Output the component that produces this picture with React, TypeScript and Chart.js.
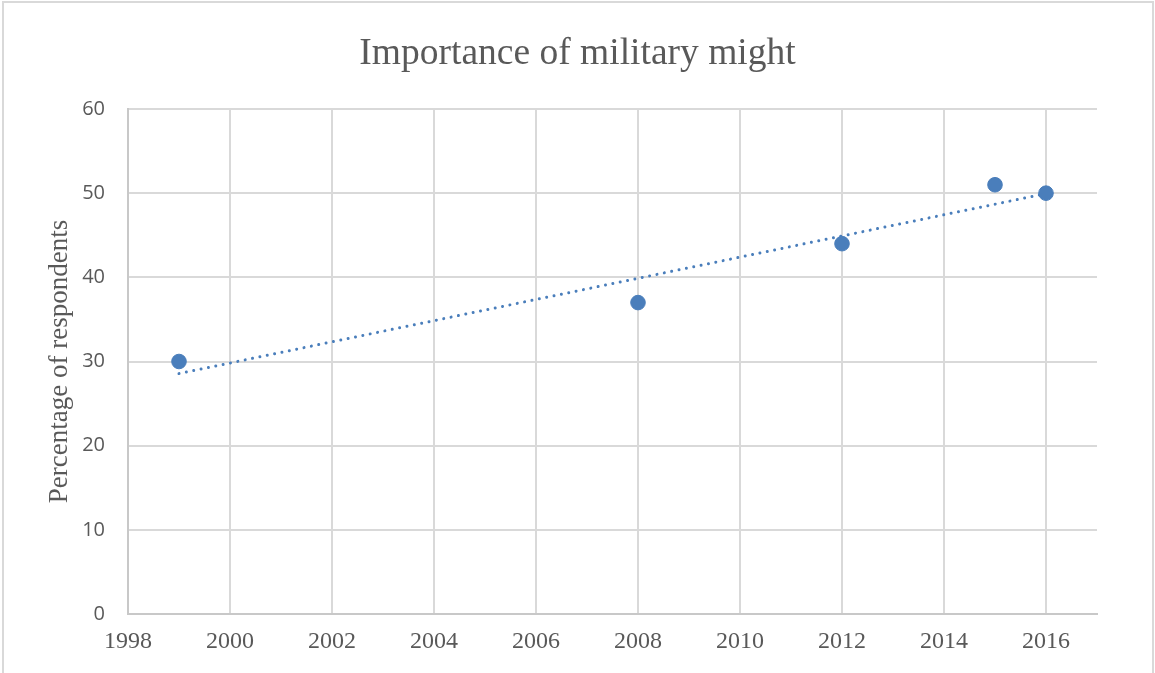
import React, { useEffect, useRef } from "react";
import { Chart, registerables } from "chart.js";

Chart.register(...registerables);

// Survey years and share of respondents who rated military might as important
const years = [1999, 2008, 2012, 2015, 2016];
const percentages = [30, 37, 44, 51, 50];

const xTickValues = [1998, 2000, 2002, 2004, 2006, 2008, 2010, 2012, 2014, 2016];
const xMin = 1998;
const xMax = 2017;
const yMin = 0;
const yMax = 60;
const yTickStep = 10;

const chartTitle = "Importance of military might";
const yAxisTitle = "Percentage of respondents";

const BLUE = "#4a7ebb";
const TEXT = "#595959";
const GRID = "#d9d9d9";

// Ordinary least-squares fit over the observed points (linear trendline)
function linearTrend(xs: number[], ys: number[]) {
  const n = xs.length;
  const mx = xs.reduce((a, b) => a + b, 0) / n;
  const my = ys.reduce((a, b) => a + b, 0) / n;
  let sxy = 0;
  let sxx = 0;
  for (let i = 0; i < n; i++) {
    sxy += (xs[i] - mx) * (ys[i] - my);
    sxx += (xs[i] - mx) * (xs[i] - mx);
  }
  const slope = sxy / sxx;
  const first = Math.min(...xs);
  const last = Math.max(...xs);
  return [
    { x: first, y: my + slope * (first - mx) },
    { x: last, y: my + slope * (last - mx) },
  ];
}

// Light frame around the whole chart
const framePlugin = {
  id: "frame",
  beforeDraw(chart: any) {
    const { ctx } = chart;
    ctx.save();
    ctx.fillStyle = "#ffffff";
    ctx.fillRect(0, 0, chart.width, chart.height);
    ctx.strokeStyle = "#d9d9d9";
    ctx.lineWidth = 2;
    ctx.strokeRect(3, 2, 1150, 690);
    ctx.restore();
  },
};

export default function App() {
  const canvasRef = useRef<HTMLCanvasElement | null>(null);

  useEffect(() => {
    document.body.style.margin = "0";
    const canvas = canvasRef.current;
    if (!canvas) return;

    const chart = new Chart(canvas, {
      type: "scatter",
      data: {
        datasets: [
          {
            label: "Respondents",
            data: years.map((y, i) => ({ x: y, y: percentages[i] })),
            backgroundColor: BLUE,
            borderColor: BLUE,
            pointRadius: 7.3,
            pointHoverRadius: 7.3,
            order: 1,
          },
          {
            label: "Linear trend",
            data: linearTrend(years, percentages),
            showLine: true,
            borderColor: BLUE,
            borderWidth: 3,
            borderDash: [0.01, 7.5],
            borderCapStyle: "round",
            pointRadius: 0,
            fill: false,
            order: 2,
          } as any,
        ],
      },
      options: {
        animation: false,
        responsive: false,
        maintainAspectRatio: false,
        layout: { padding: { left: 29, right: 29, top: 0, bottom: 0 } },
        plugins: {
          legend: { display: false },
          tooltip: { enabled: false },
          title: {
            display: true,
            text: chartTitle,
            color: TEXT,
            font: { family: "'Liberation Serif', serif", size: 37.5, weight: "normal" },
            padding: { top: 32, bottom: 32 },
          },
        },
        scales: {
          x: {
            type: "linear",
            min: xMin,
            max: xMax,
            afterBuildTicks(scale: any) {
              scale.ticks = xTickValues.map((v) => ({ value: v }));
            },
            afterFit(scale: any) {
              scale.height = 59;
            },
            ticks: {
              color: TEXT,
              padding: 13,
              maxRotation: 0,
              autoSkip: false,
              font: { family: "'Liberation Serif', serif", size: 24 },
              callback: (v: any) => String(v),
            },
            grid: { color: GRID, lineWidth: 2, drawTicks: false },
            border: { display: true, color: "#c8c8c8", width: 2 },
          },
          y: {
            type: "linear",
            min: yMin,
            max: yMax,
            afterFit(scale: any) {
              scale.width = 99;
            },
            ticks: {
              stepSize: yTickStep,
              color: TEXT,
              padding: 23,
              font: { family: "'Open Sans', sans-serif", size: 20 },
            },
            title: {
              display: true,
              text: yAxisTitle,
              color: TEXT,
              font: { family: "'Liberation Serif', serif", size: 27 },
              padding: { top: 15, bottom: 0 },
            },
            grid: { color: GRID, lineWidth: 2, drawTicks: false },
            border: { display: true, color: "#c8c8c8", width: 2 },
          },
          // empty right-hand gutter so the plot ends where the title stays centred on the page
          gutter: {
            type: "linear",
            position: "right",
            min: yMin,
            max: yMax,
            afterFit(scale: any) {
              scale.width = 29;
            },
            ticks: { display: false },
            grid: { drawOnChartArea: false, drawTicks: false },
            border: { display: false },
          },
        },
      },
      plugins: [framePlugin],
    });

    return () => chart.destroy();
  }, []);

  return (
    <div style={{ position: "absolute", left: 0, top: 0, width: 1155, height: 673 }}>
      <canvas ref={canvasRef} width={1155} height={673} />
    </div>
  );
}
